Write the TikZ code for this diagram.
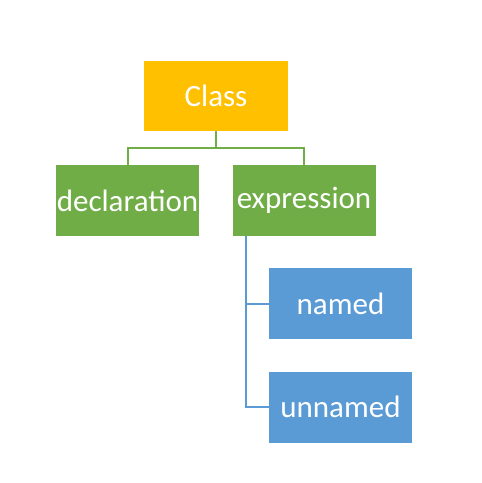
\documentclass[tikz,border=0pt]{standalone}
\usepackage{fontspec}
\setmainfont{Carlito}
\usetikzlibrary{calc}
\definecolor{cgold}{HTML}{FFC000}
\definecolor{cgreen}{HTML}{70AD47}
\definecolor{cblue}{HTML}{5B9BD5}
\tikzset{
  box/.style={rectangle, inner sep=0pt, minimum width=143pt, minimum height=71pt, text=white, font=\fontsize{31}{37}\selectfont},
  goldbox/.style={box, fill=cgold},
  greenbox/.style={box, fill=cgreen},
  bluebox/.style={box, fill=cblue},
  gline/.style={draw=cgreen, line width=2pt},
  bline/.style={draw=cblue, line width=2pt}
}
\begin{document}
\begin{tikzpicture}[x=1pt,y=-1pt]
\useasboundingbox (0,0) rectangle (482,483);
\node[goldbox, minimum width=144pt, minimum height=70pt] (class) at (216,96) {Class};
\node[greenbox] (decl) at (127.5,200.5) {declaration};
\node[greenbox] (expr) at (304,200.5) {expression};
\node[bluebox] (named) at (340.5,303.5) {named};
\node[bluebox] (unnamed) at (340.5,407) {unnamed};
\coordinate (mid) at ($(class.south)+(0,17)$);
\draw[gline] (class.south) -- (mid) -| (decl.north);
\draw[gline] (mid) -| (expr.north);
\coordinate (bstart) at ($(expr.south west)+(14,0)$);
\draw[bline] (bstart) |- (named.west);
\draw[bline] (bstart) |- (unnamed.west);
\end{tikzpicture}
\end{document}
